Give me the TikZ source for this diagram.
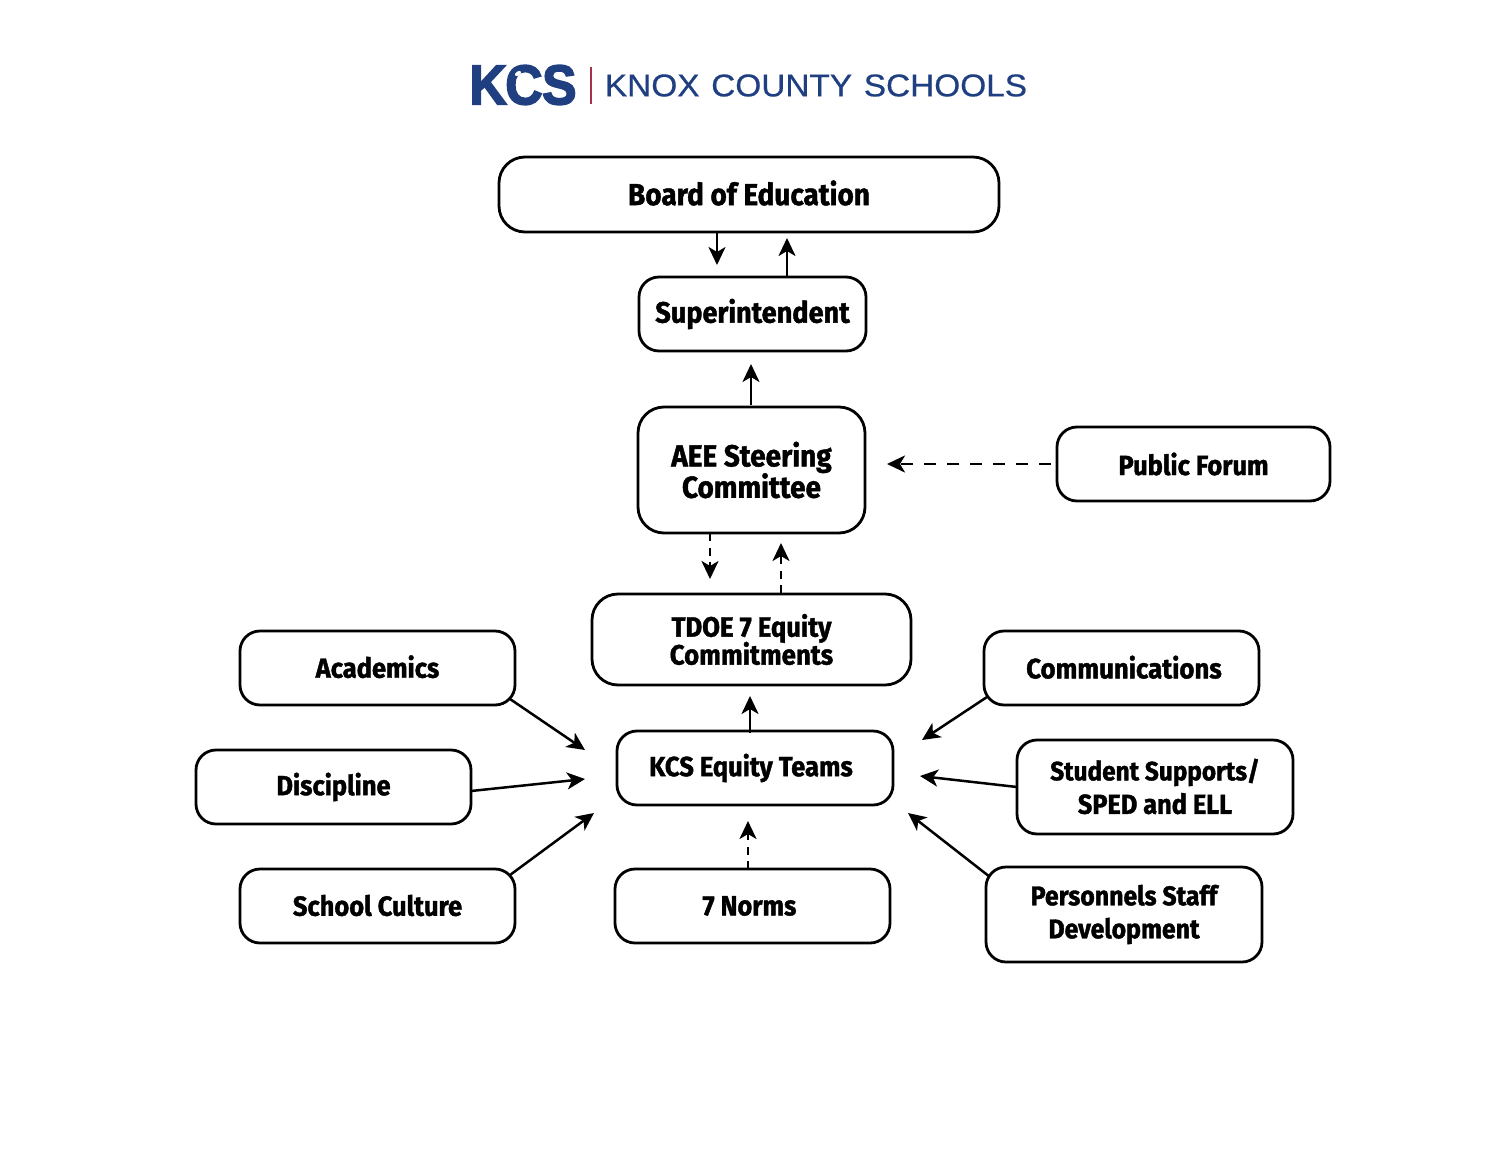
\documentclass[tikz,border=0pt]{standalone}
\usepackage{fontspec}
\usepackage{graphicx}
\usetikzlibrary{calc,arrows.meta}
\setmainfont{Fira Sans}[BoldFont={Fira Sans Bold},BoldFeatures={FakeStretch=0.92,FakeBold=1.4}]
\newfontfamily\logofont{Liberation Sans}[FakeBold=0.5]
\newfontfamily\logoboldfont{Liberation Sans Bold}[FakeBold=3]
\definecolor{kcsblue}{HTML}{1F3F80}
\definecolor{kcsred}{HTML}{A8324A}
\tikzset{
  box/.style={draw=black,line width=2.8pt,fill=white,inner sep=0pt,outer sep=0pt,align=center,font=\bfseries,text=black},
  rs/.style={rounded corners=20pt},
  rl/.style={rounded corners=26pt},
  link/.style={line width=2.5pt,draw=black,-{Stealth[length=18pt,width=17pt,inset=5pt]}},
  dashshort/.style={link,dash pattern=on 8pt off 6.5pt},
  dashlong/.style={link,dash pattern=on 12pt off 11pt},
  fa/.style={font=\bfseries\fontsize{#1}{#1}\selectfont}
}
\begin{document}
\begin{tikzpicture}[x=1pt,y=-1pt]
\useasboundingbox (0,0) rectangle (1500,1159);
% logo
\node[inner sep=0pt,text=kcsblue] (kcs) at (523,85) {\resizebox{107pt}{39pt}{\logoboldfont K\kern-.03em C\kern-.01em S}};
\fill[white,rotate around={35:(518,73.5)}] (518,73.5) ellipse (3.4pt and 2pt);
\fill[white,rotate around={-35:(525,76)}] (525,76) ellipse (2.6pt and 1.5pt);
\draw[kcsred,line width=1.8pt] (591,67) -- (591,104);
\node[inner sep=0pt,text=kcsblue] (kcsname) at (816,85.5) {\resizebox{422pt}{22pt}{\logofont KNOX\hspace{.35em}COUNTY\hspace{.35em}SCHOOLS}};
% boxes
\node[box,rl,minimum width=500pt,minimum height=75pt,fa=30.4] (board) at (749,194.5) {\raisebox{3.5pt}{Board of Education}};
\node[box,rs,minimum width=227pt,minimum height=74pt,fa=29.5] (sup) at (752.5,314) {Superintendent};
\node[box,rl,minimum width=227pt,minimum height=126pt,fa=30.4] (aee) at (751.5,470) {AEE Steering\\[-1pt]Committee};
\node[box,rs,minimum width=273pt,minimum height=74pt,fa=27.7] (pub) at (1193.5,464) {Public Forum};
\node[box,rl,minimum width=319pt,minimum height=91pt,fa=28] (tdoe) at (751.5,639.5) {TDOE 7 Equity\\[-2pt]Commitments};
\node[box,rs,minimum width=275pt,minimum height=74pt,fa=27.7] (acad) at (377.5,668) {\raisebox{3pt}{Academics}};
\node[box,rs,minimum width=275pt,minimum height=74pt,fa=27.7] (disc) at (333.5,787) {Discipline};
\node[box,rs,minimum width=275pt,minimum height=74pt,fa=27.7] (cult) at (377.5,906) {\raisebox{1.5pt}{School Culture}};
\node[box,rs,minimum width=276pt,minimum height=74pt,fa=27.7] (teams) at (755,768) {\hspace*{-8pt}\raisebox{-1pt}{KCS Equity Teams}};
\node[box,rs,minimum width=275pt,minimum height=74pt,fa=27.7] (norms) at (752.5,906) {\hspace*{-6pt}7 Norms};
\node[box,rs,minimum width=275pt,minimum height=74pt,fa=28] (comm) at (1121.5,668) {\hspace*{5pt}\raisebox{2pt}{Communications}};
\node[box,rs,minimum width=276pt,minimum height=94pt,fa=26.5] (stud) at (1155,787) {\raisebox{2.5pt}{Student Supports/}\\[6pt]\raisebox{1.5pt}{\fontsize{27.5}{27.5}\selectfont SPED and ELL}};
\node[box,rs,minimum width=276pt,minimum height=95pt,fa=27] (pers) at (1124,914.5) {Personnels Staff\\[6pt]Development};
% free ends of the connectors
\coordinate (toSup) at (717,265);
\coordinate (toBoard) at (787,238);
\coordinate (toSup2) at (751,364);
\coordinate (toAee) at (887,464);
\coordinate (toTdoe) at (710,579);
\coordinate (toAee2) at (781,543);
\coordinate (toTdoe2) at (750,696);
\coordinate (fromAcad) at (585,750);
\coordinate (fromDisc) at (585,779);
\coordinate (fromCult) at (594,813);
\coordinate (fromComm) at (922,740);
\coordinate (fromStud) at (920,776);
\coordinate (fromPers) at (908,813);
\coordinate (fromNorms) at (748,821);
% connectors
\draw[link] (board.south -| toSup) -- (toSup);
\draw[link] (sup.north -| toBoard) -- (toBoard);
\draw[link] ($(aee.north -| toSup2)+(0,-2)$) -- (toSup2);
\draw[dashlong] ($(pub.west)+(-6,0)$) -- (toAee);
\draw[dashshort] (aee.south -| toTdoe) -- (toTdoe);
\draw[dashshort] ($(tdoe.north -| toAee2)+(0,-1)$) -- (toAee2);
\draw[link] ($(teams.north -| toTdoe2)+(0,2)$) -- (toTdoe2);
\draw[link] ($(acad.south east)+(-5,-6)$) -- (fromAcad);
\draw[link] ($(disc.east)+(0,4)$) -- (fromDisc);
\draw[link] ($(cult.north east)+(-5,6)$) -- (fromCult);
\draw[link] ($(comm.south west)+(3,-8)$) -- (fromComm);
\draw[link] (stud.west) -- (fromStud);
\draw[link] ($(pers.north west)+(4,10)$) -- (fromPers);
\draw[dashshort] (norms.north -| fromNorms) -- (fromNorms);
\end{tikzpicture}
\end{document}
